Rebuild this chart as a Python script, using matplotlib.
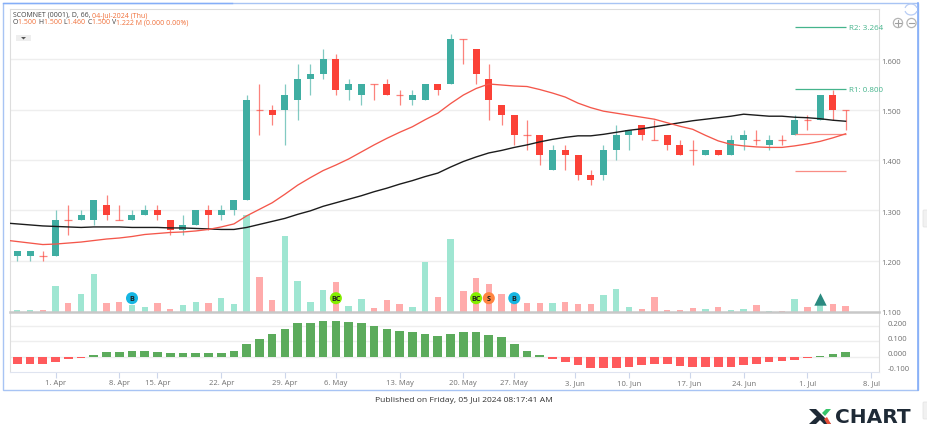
import numpy as np
import matplotlib
matplotlib.use("Agg")
import matplotlib.pyplot as plt
from matplotlib.patches import Rectangle, Circle, Polygon, Arc, FancyBboxPatch
from matplotlib.transforms import ScaledTranslation

plt.rcParams['font.family'] = ['Open Sans', 'DejaVu Sans']

# --- data ---
opens = [1.21, 1.21, 1.21, 1.21, 1.28, 1.28, 1.28, 1.31, 1.28, 1.28, 1.29, 1.30, 1.28, 1.26, 1.27, 1.30, 1.29,
         1.30, 1.32, 1.50, 1.50, 1.50, 1.52, 1.56, 1.57, 1.60, 1.54, 1.53, 1.55, 1.55, 1.53, 1.52, 1.52, 1.55,
         1.55, 1.64, 1.62, 1.56, 1.51, 1.49, 1.45, 1.45, 1.38, 1.42, 1.41, 1.37, 1.37, 1.42, 1.45, 1.47, 1.44,
         1.45, 1.43, 1.42, 1.41, 1.42, 1.41, 1.44, 1.44, 1.43, 1.44, 1.45, 1.48, 1.48, 1.53, 1.50]
highs = [1.22, 1.22, 1.22, 1.30, 1.31, 1.30, 1.32, 1.33, 1.31, 1.30, 1.31, 1.31, 1.28, 1.29, 1.30, 1.31, 1.31,
         1.32, 1.53, 1.55, 1.51, 1.55, 1.59, 1.59, 1.62, 1.61, 1.56, 1.55, 1.55, 1.56, 1.54, 1.54, 1.55, 1.55,
         1.65, 1.64, 1.62, 1.59, 1.51, 1.49, 1.48, 1.45, 1.43, 1.43, 1.41, 1.38, 1.43, 1.47, 1.46, 1.47, 1.48,
         1.45, 1.44, 1.44, 1.42, 1.42, 1.45, 1.46, 1.46, 1.45, 1.45, 1.49, 1.49, 1.53, 1.54, 1.50]
lows = [1.20, 1.20, 1.20, 1.21, 1.25, 1.28, 1.27, 1.28, 1.28, 1.28, 1.29, 1.28, 1.25, 1.25, 1.27, 1.26, 1.28,
        1.29, 1.32, 1.45, 1.47, 1.43, 1.48, 1.53, 1.56, 1.53, 1.52, 1.51, 1.52, 1.53, 1.51, 1.51, 1.52, 1.53,
        1.55, 1.59, 1.55, 1.48, 1.47, 1.43, 1.42, 1.39, 1.38, 1.38, 1.36, 1.35, 1.36, 1.40, 1.42, 1.44, 1.44,
        1.42, 1.41, 1.39, 1.41, 1.41, 1.41, 1.42, 1.43, 1.42, 1.43, 1.45, 1.46, 1.48, 1.48, 1.46]
closes = [1.22, 1.22, 1.21, 1.28, 1.28, 1.29, 1.32, 1.29, 1.28, 1.29, 1.30, 1.29, 1.26, 1.27, 1.30, 1.29, 1.30,
          1.32, 1.52, 1.50, 1.49, 1.53, 1.56, 1.57, 1.60, 1.54, 1.55, 1.55, 1.55, 1.53, 1.53, 1.53, 1.55, 1.54,
          1.64, 1.64, 1.57, 1.52, 1.49, 1.45, 1.45, 1.41, 1.42, 1.41, 1.37, 1.36, 1.42, 1.45, 1.46, 1.45, 1.44,
          1.43, 1.41, 1.42, 1.42, 1.41, 1.44, 1.45, 1.44, 1.44, 1.44, 1.48, 1.48, 1.53, 1.50, 1.50]

# moving averages start one bar before the first candle (cut by the left edge)
ma_red = [1.241, 1.238, 1.235, 1.232, 1.233, 1.235, 1.237, 1.240, 1.243, 1.245, 1.248, 1.252, 1.254, 1.256, 1.257,
          1.259, 1.262, 1.267, 1.273, 1.289, 1.302, 1.315, 1.332, 1.350, 1.365, 1.379, 1.390, 1.402, 1.416, 1.430,
          1.443, 1.455, 1.466, 1.480, 1.493, 1.512, 1.529, 1.542, 1.551, 1.549, 1.547, 1.546, 1.540, 1.533, 1.525,
          1.513, 1.504, 1.497, 1.493, 1.489, 1.485, 1.481, 1.474, 1.467, 1.461, 1.449, 1.438, 1.431, 1.428, 1.426,
          1.425, 1.425, 1.428, 1.432, 1.437, 1.444, 1.452]
ma_black = [1.275, 1.273, 1.271, 1.269, 1.268, 1.267, 1.266, 1.267, 1.267, 1.267, 1.266, 1.266, 1.266, 1.265, 1.265,
            1.264, 1.263, 1.262, 1.262, 1.266, 1.272, 1.278, 1.284, 1.292, 1.299, 1.308, 1.315, 1.322, 1.329, 1.337,
            1.344, 1.352, 1.359, 1.367, 1.374, 1.386, 1.397, 1.406, 1.414, 1.419, 1.425, 1.430, 1.436, 1.441, 1.445,
            1.448, 1.448, 1.451, 1.455, 1.459, 1.462, 1.466, 1.470, 1.474, 1.478, 1.481, 1.484, 1.487, 1.491, 1.489,
            1.487, 1.487, 1.485, 1.484, 1.482, 1.479, 1.477]

volumes = [0.38, 0.38, 0.38, 4.83, 1.69, 3.45, 7.21, 1.69, 1.82, 1.38, 0.88, 1.69, 0.56, 1.38, 1.94, 1.69, 2.63,
           1.50, 18.31, 6.52, 2.19, 14.36, 5.83, 1.94, 4.08, 5.64, 1.19, 2.45, 0.75, 2.32, 1.57, 0.88, 9.34, 2.88,
           13.79, 3.95, 6.40, 5.33, 3.39, 1.69, 1.69, 1.69, 1.69, 1.82, 1.44, 1.44, 3.26, 4.33, 0.94, 0.63, 2.76,
           0.38, 0.38, 0.75, 0.56, 0.94, 0.38, 0.56, 1.32, 0.19, 0.13, 2.45, 0.94, 1.25, 1.57, 1.22]

macd = [-0.050, -0.046, -0.046, -0.033, -0.018, -0.007, 0.011, 0.031, 0.031, 0.035, 0.035, 0.031, 0.026, 0.026,
        0.026, 0.026, 0.026, 0.040, 0.081, 0.114, 0.147, 0.185, 0.224, 0.224, 0.233, 0.233, 0.229, 0.220, 0.204,
        0.185, 0.171, 0.160, 0.152, 0.138, 0.152, 0.160, 0.160, 0.143, 0.127, 0.086, 0.040, 0.009, -0.015, -0.033,
        -0.053, -0.075, -0.075, -0.075, -0.070, -0.057, -0.046, -0.048, -0.059, -0.066, -0.066, -0.070, -0.066,
        -0.053, -0.050, -0.037, -0.029, -0.020, -0.011, 0.002, 0.020, 0.031]

# bar index of each date tick
tick_idx = [3, 8, 11, 16, 21, 25, 30, 35, 39, 43.75, 48, 52.75, 57, 62, 67]
tick_labels = ['1. Apr', '8. Apr', '15. Apr', '22. Apr', '29. Apr', '6. May', '13. May', '20. May', '27. May',
               '3. Jun', '10. Jun', '17. Jun', '24. Jun', '1. Jul', '8. Jul']
price_ticks = [1.1, 1.2, 1.3, 1.4, 1.5, 1.6]
macd_ticks = [-0.1, 0.0, 0.1, 0.2]

signal_idx = [9, 25, 36, 37, 39]
signal_text = ['B', 'BC', 'BC', 'S', 'B']
signal_colors = ['#16b6e2', '#84ee00', '#84ee00', '#ff8440', '#16b6e2']
arrow_idx = 63

r2_level, r1_level, s1_level, s2_level = 1.664, 1.541, 1.451, 1.379
pivot_start, pivot_end = 61, 65

UP, DOWN = '#3faea2', '#fb4137'
UP_VOL, DOWN_VOL = '#9fe6d2', '#ffabab'
GRID = '#eeeeee'
FRAME = '#dddddd'
LABEL = '#707070'
ORANGE = '#f0703a'
DARK = '#444444'
NAVY = '#1e2a36'
W, H = 928, 427


def px_axes(fig, left, top, right, bottom, **kw):
    return fig.add_axes([left / W, 1 - bottom / H, (right - left) / W, (bottom - top) / H], **kw)


def shift_labels(labels, dy_px):
    # the site prints axis labels a little off their grid lines
    for lbl in labels:
        lbl.set_transform(lbl.get_transform() + ScaledTranslation(0, dy_px / 100, fig.dpi_scale_trans))


def chain(axes, pieces, x, y):
    # lay coloured pieces on one baseline, each starting where the last one ended
    renderer = fig.canvas.get_renderer()
    for s, c in pieces:
        t = axes.text(x, y, s, fontsize=5.0, color=c, va='baseline', zorder=9)
        x += t.get_window_extent(renderer).width * W / fig.bbox.width


fig = plt.figure(figsize=(W / 100, H / 100), dpi=100)
fig.patch.set_facecolor('white')

# overlay in pixel coordinates for the page border
page = fig.add_axes([0, 0, 1, 1], zorder=0)
page.set_xlim(0, W)
page.set_ylim(H, 0)
page.axis('off')
page.add_patch(Rectangle((3.5, 3.5), 914.5, 387.5, fill=False, edgecolor='#a8c4f4', lw=1.0))
page.plot([918, 918], [3.5, 391], color='#85aef8', lw=1.2)
page.plot([3.5, 232], [3.5, 3.5], color='#85aef8', lw=1.0)

xlim = (-0.573, 67.62)
ind = np.arange(len(closes))
up = np.array(closes) > np.array(opens)

# --- volume, behind the candles ---
ax_vol = px_axes(fig, 10, 10, 879, 313, zorder=1)
ax_vol.set_xlim(xlim)
ax_vol.set_ylim(0, 57)
ax_vol.bar(ind, volumes, width=0.5, color=[UP_VOL if u else DOWN_VOL for u in up], zorder=2)
ax_vol.set_xticks([])
ax_vol.set_yticks([])
for s in ax_vol.spines.values():
    s.set_color(FRAME)
ax_vol.spines['bottom'].set_visible(False)

# --- price pane ---
ax = px_axes(fig, 10, 10, 879, 313, zorder=2)
ax.patch.set_alpha(0)
ax.set_xlim(xlim)
ax.set_ylim(1.098, 1.700)
for s in ax.spines.values():
    s.set_visible(False)
ax.set_xticks([])
ax.yaxis.tick_right()
ax.set_yticks(price_ticks)
ax.set_yticklabels(['%.3f' % v for v in price_ticks], fontsize=5.5, color=LABEL)
ax.tick_params(axis='y', length=0, pad=1.5)
shift_labels(ax.get_yticklabels(), -1)
for v in price_ticks[1:]:
    ax_vol.axhline((v - 1.098) / 0.602 * 57, color=GRID, lw=1.0, zorder=1)

for i in ind:
    col = UP if up[i] else DOWN
    ax.vlines(i, lows[i], highs[i], color=col, lw=0.9, alpha=0.65, zorder=3)
    if opens[i] == closes[i]:
        ax.hlines(closes[i], i - 0.3, i + 0.3, color=col, lw=0.9, alpha=0.65, zorder=3)
    else:
        b = min(opens[i], closes[i])
        ax.bar(i, abs(closes[i] - opens[i]), bottom=b, width=0.55, color=col, zorder=4)

ma_x = np.arange(-1, len(closes))
ax.plot(ma_x, ma_black, color='#1c1c1c', lw=1.0, zorder=5)
ax.plot(ma_x, ma_red, color='#f4574b', lw=0.95, zorder=5)

ax.hlines([r2_level, r1_level], pivot_start, pivot_end, color='#45b48c', lw=0.9, zorder=4)
ax.hlines([s1_level, s2_level], pivot_start, pivot_end, color='#f98d85', lw=0.9, zorder=4)
ax.annotate('R2: 3.264', (pivot_end, r2_level), xytext=(2.5, 0), textcoords='offset points', va='center',
            fontsize=5.8, color='#45b48c', zorder=6)
ax.annotate('R1: 0.800', (pivot_end, r1_level), xytext=(2.5, 0), textcoords='offset points', va='center',
            fontsize=5.8, color='#45b48c', zorder=6)

# signal badges sit just above the volume baseline, in volume units
ax_top = px_axes(fig, 10, 10, 879, 313, zorder=3)
ax_top.patch.set_alpha(0)
ax_top.axis('off')
ax_top.set_xlim(xlim)
ax_top.set_ylim(0, 57)
ax_top.scatter(signal_idx, [2.6] * len(signal_idx), s=75, c=signal_colors, zorder=6, linewidths=0)
for i, t in zip(signal_idx, signal_text):
    ax_top.text(i, 2.55, t, ha='center', va='center', fontsize=5.2, color='#222222', fontweight='bold', zorder=7)
ax_top.scatter([arrow_idx], [2.5], marker='^', s=80, color='#2a8a80', zorder=6, linewidths=0)

# --- oscillator pane ---
ax_m = px_axes(fig, 10, 313, 879, 372.7, zorder=2)
ax_m.set_xlim(xlim)
ax_m.set_ylim((357.7 - 372.7) / 151.5, (357.7 - 313) / 151.5)
ax_m.bar(ind, macd, width=0.68, color=['#5cab5c' if v > 0 else '#ff5a5c' for v in macd], zorder=3)
for v in [0.0, 0.1, 0.2]:
    ax_m.axhline(v, color=GRID, lw=1.0, zorder=1)
ax_m.yaxis.tick_right()
ax_m.set_yticks(macd_ticks)
ax_m.set_yticklabels(['%.3f' % v for v in macd_ticks], fontsize=5.5, color=LABEL, ha='left')
ax_m.tick_params(axis='y', length=0, pad=6.5)
shift_labels(ax_m.get_yticklabels(), 3.7)
ax_m.set_xticks(tick_idx)
ax_m.set_xticklabels(tick_labels, fontsize=5.5, color=LABEL)
ax_m.tick_params(axis='x', length=4, width=0.8, color='#ccd6eb', pad=1.6)
for s in ax_m.spines.values():
    s.set_color(FRAME)
ax_m.spines['bottom'].set_color('#dfe4f0')
ax_m.spines['top'].set_color('#c8c8c8')
ax_m.spines['top'].set_linewidth(1.8)

# --- header, buttons, footer, in pixel coordinates ---
head = fig.add_axes([0, 0, 1, 1], zorder=5)
head.set_xlim(0, W)
head.set_ylim(H, 0)
head.axis('off')
chain(head, [('SCOMNET (0001), D, 66, ', DARK), ('04-Jul-2024 (Thu)', ORANGE)], 13, 17)
chain(head, [('O', DARK), ('1.500 ', ORANGE), ('H', DARK), ('1.500 ', ORANGE), ('L', DARK), ('1.460 ', ORANGE),
             ('C', DARK), ('1.500 ', ORANGE), ('V', DARK), ('1.222 M (0.000 0.00%)', ORANGE)], 13, 24.5)

# range dropdown
head.add_patch(Rectangle((16, 36), 15, 6, facecolor='#eeeeee', edgecolor='none'))
head.add_patch(Polygon([(21, 38), (26, 38), (23.5, 40.5)], facecolor='#555555', edgecolor='none'))

# zoom buttons
for cx, sign in [(898, '+'), (911.5, '-')]:
    head.add_patch(Circle((cx, 24), 4.6, fill=False, edgecolor='#b5b5b5', lw=0.9))
    head.plot([cx - 2.6, cx + 2.6], [24, 24], color='#a0a0a0', lw=0.8)
    if sign == '+':
        head.plot([cx, cx], [21.4, 26.6], color='#a0a0a0', lw=0.8)
head.add_patch(Arc((911, 11), 12, 10, theta1=10, theta2=170, edgecolor='#b8cdf5', lw=0.9))
head.add_patch(Arc((911, 10), 12, 10, theta1=190, theta2=350, edgecolor='#b8cdf5', lw=0.9))

head.text(464, 401, 'Published on Friday, 05 Jul 2024 08:17:41 AM', ha='center', va='center', fontsize=6.1,
          color='#333333')

# scroll handles at the right edge
for top in [212, 404]:
    head.add_patch(FancyBboxPatch((924, top), 4, 15, boxstyle='round,pad=1', facecolor='#f1f1f1',
                                  edgecolor='#e2e2e2', lw=0.5))

# logo
head.add_patch(Polygon([(809, 410), (816, 410), (831, 425), (824, 425)], facecolor=NAVY, edgecolor='none'))
head.add_patch(Polygon([(809, 425), (816, 425), (822, 419), (819, 415.5)], facecolor=NAVY, edgecolor='none'))
head.add_patch(Polygon([(822, 414), (826, 410), (831, 410), (825, 417)], facecolor='#36c46a', edgecolor='none'))
head.add_patch(Polygon([(824, 420), (827, 418), (831, 425), (827, 425)], facecolor='#e8503a', edgecolor='none'))
head.text(835, 417.5, 'CHART', ha='left', va='center', fontsize=14.5, fontweight='bold', color=NAVY,
          family=['DejaVu Sans'])

fig.savefig('out.png', dpi=100)
